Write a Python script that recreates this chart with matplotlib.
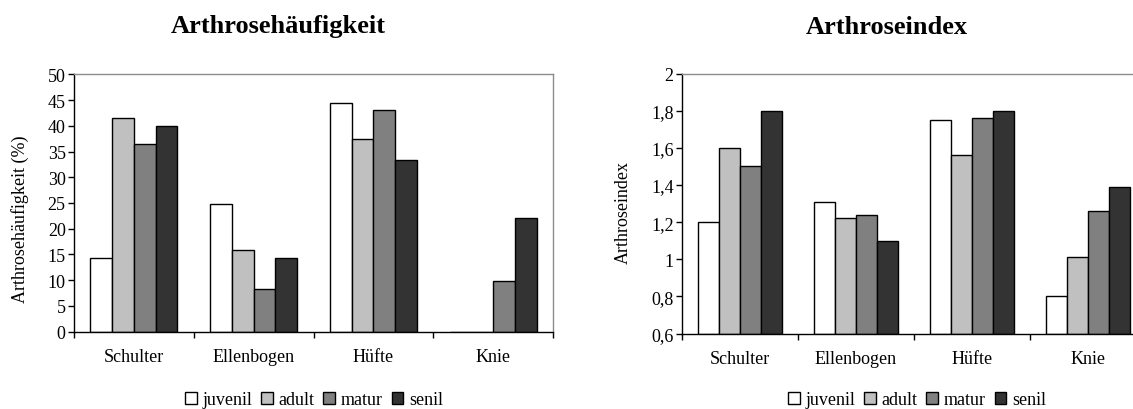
import numpy as np
import matplotlib
matplotlib.use('Agg')
import matplotlib.pyplot as plt

plt.rcParams['font.family'] = ['Liberation Serif', 'DejaVu Serif']

categories = ['Schulter', 'Ellenbogen', 'Hüfte', 'Knie']
groups = ['juvenil', 'adult', 'matur', 'senil']
colors = ['#FFFFFF', '#C0C0C0', '#808080', '#333333']

# Arthrosehäufigkeit (%) per joint, one list per age group
haeuf_juvenil = [14.3, 24.9, 44.5, 0]
haeuf_adult = [41.6, 15.9, 37.4, 0]
haeuf_matur = [36.4, 8.2, 43.1, 9.8]
haeuf_senil = [39.9, 14.3, 33.4, 22.0]

# Arthroseindex per joint
index_juvenil = [1.20, 1.31, 1.75, 0.80]
index_adult = [1.60, 1.22, 1.56, 1.01]
index_matur = [1.50, 1.24, 1.76, 1.26]
index_senil = [1.80, 1.10, 1.80, 1.39]

haeuf_ticks = [0, 5, 10, 15, 20, 25, 30, 35, 40, 45, 50]
index_ticks = [0.6, 0.8, 1.0, 1.2, 1.4, 1.6, 1.8, 2.0]
index_ticklabels = ['0,6', '0,8', '1', '1,2', '1,4', '1,6', '1,8', '2']

fs = 13
fs_title = 19


def bar_panel(fig, ax, series, ylim, yticks, yticklabels, ylabel, ylabel_pos, leg_x):
    bw = 0.727 / 4
    x = np.arange(len(categories))
    for j, (vals, col, lab) in enumerate(zip(series, colors, groups)):
        ax.bar(x + (j - 1.5) * bw, np.array(vals) - ylim[0], bw, bottom=ylim[0],
               color=col, edgecolor='black', linewidth=1.0, label=lab)
    ax.set_xlim(-0.5, len(categories) - 0.5)
    ax.set_ylim(*ylim)
    ax.set_yticks(yticks)
    ax.set_yticklabels(yticklabels, fontsize=fs)
    # ticks sit on the category borders, names in between
    ax.set_xticks(np.arange(len(categories) + 1) - 0.5)
    ax.set_xticklabels([])
    ax.set_xticks(x, minor=True)
    ax.set_xticklabels(categories, minor=True, fontsize=fs)
    ax.tick_params(axis='x', which='minor', length=0, pad=12)
    ax.tick_params(axis='x', which='major', length=4, width=1, direction='out')
    ax.tick_params(axis='y', length=4, width=1, direction='out', pad=2)
    for s in ['top', 'right']:
        ax.spines[s].set_color('#8c8c8c')
        ax.spines[s].set_linewidth(1.0)
    for s in ['left', 'bottom']:
        ax.spines[s].set_color('black')
        ax.spines[s].set_linewidth(1.0)
    ax.set_ylabel(ylabel, fontsize=fs)
    ax.yaxis.set_label_coords(ylabel_pos[0], ylabel_pos[1])
    h, l = ax.get_legend_handles_labels()
    fig.legend(h, l, loc='lower center', bbox_to_anchor=(leg_x, 1 / 410),
               bbox_transform=fig.transFigure, ncol=4, frameon=False,
               fontsize=fs, handlelength=0.65, handleheight=0.65, handletextpad=0.3,
               columnspacing=0.5, borderaxespad=0, borderpad=0)


fig = plt.figure(figsize=(11.33, 4.10), dpi=100)

ax1 = fig.add_axes([74 / 1133, (410 - 332.7) / 410, 479 / 1133, 257.4 / 410])
bar_panel(fig, ax1, [haeuf_juvenil, haeuf_adult, haeuf_matur, haeuf_senil], (0, 50),
          haeuf_ticks, [str(t) for t in haeuf_ticks], 'Arthrosehäufigkeit (%)',
          (-0.094, 0.44), 314 / 1133)

ax2 = fig.add_axes([682 / 1133, (410 - 334.5) / 410, 464 / 1133, 259.8 / 410])
bar_panel(fig, ax2, [index_juvenil, index_adult, index_matur, index_senil], (0.6, 2.0),
          index_ticks, index_ticklabels, 'Arthroseindex', (-0.108, 0.47), 917 / 1133)

fig.text(278 / 1133, 1 - 27 / 410, 'Arthrosehäufigkeit', ha='center', va='center',
         fontsize=fs_title, fontweight='bold')
fig.text(887 / 1133, 1 - 27 / 410, 'Arthroseindex', ha='center', va='center',
         fontsize=fs_title, fontweight='bold')

fig.savefig('out.png', dpi=100)
